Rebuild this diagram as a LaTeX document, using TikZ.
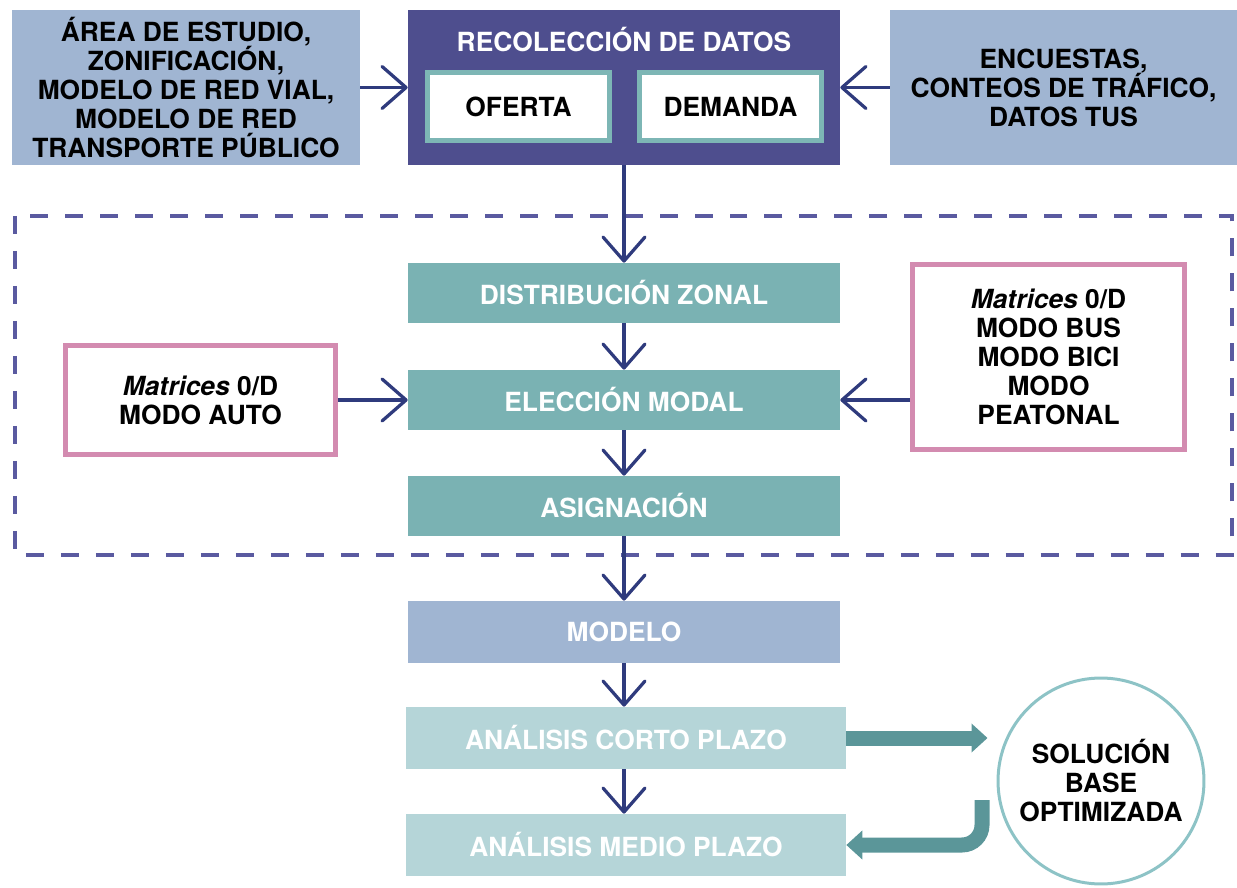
\documentclass[tikz,border=0pt]{standalone}
\usepackage{fontspec}
\setmainfont{TeX Gyre Heros}
\usetikzlibrary{arrows.meta}

\definecolor{boxblue}{RGB}{160,181,210}
\definecolor{datapurple}{RGB}{78,78,142}
\definecolor{stepteal}{RGB}{122,178,179}
\definecolor{paleteal}{RGB}{181,213,216}
\definecolor{subteal}{RGB}{125,182,181}
\definecolor{navy}{RGB}{47,59,125}
\definecolor{dashblue}{RGB}{90,90,160}
\definecolor{matpink}{RGB}{211,139,176}
\definecolor{bigteal}{RGB}{91,150,153}
\definecolor{circteal}{RGB}{141,195,198}

\tikzset{
    txt/.style={font=\fontsize{15}{16.5}\selectfont\bfseries, align=center, inner sep=0pt},
    inbox/.style={txt, fill=boxblue, minimum width=6.95cm, minimum height=3.1cm},
    databox/.style={fill=datapurple, minimum width=8.64cm, minimum height=3.1cm},
    subbox/.style={txt, draw=subteal, line width=0.1cm, fill=white, minimum width=3.64cm, minimum height=1.36cm},
    stepbox/.style={txt, text=white, fill=stepteal, minimum width=8.64cm, minimum height=1.2cm},
    plazobox/.style={txt, text=white, fill=paleteal, minimum width=8.8cm, minimum height=1.24cm},
    matbox/.style={txt, draw=matpink, line width=0.1cm, fill=white},
    flow/.style={navy, line width=0.065cm, -{Straight Barb[length=0.48cm, width=0.84cm, round]}},
    bigflow/.style={bigteal, line width=0.3cm, -{Triangle[width=0.56cm, length=0.32cm]}},
    dashbox/.style={dashblue, line width=0.09cm, dash pattern=on 0.36cm off 0.34cm}
}

\begin{document}
\begin{tikzpicture}[x=0.02cm, y=-0.02cm]
    \useasboundingbox (0,0) rectangle (1237,888);
    \draw[dashbox] (15,216) rectangle (1232,555);

    % top row
    \node[inbox] (area) at (186,87.5) {ÁREA DE ESTUDIO,\\ZONIFICACIÓN,\\MODELO DE RED VIAL,\\MODELO DE RED\\TRANSPORTE PÚBLICO};
    \node[databox] (recol) at (624,87.5) {};
    \node[txt, text=white] (recoltitle) at (624,40) {RECOLECCIÓN DE DATOS};
    \node[subbox] (oferta) at (518.5,106.5) {OFERTA};
    \node[subbox] (demanda) at (730.5,106.5) {DEMANDA};
    \node[inbox, minimum width=6.94cm] (encuestas) at (1063.5,87.5) {ENCUESTAS,\\CONTEOS DE TRÁFICO,\\DATOS TUS};

    % modelo de cuatro etapas
    \node[stepbox] (distrib) at (624,293) {DISTRIBUCIÓN ZONAL};
    \node[stepbox] (eleccion) at (624,400) {ELECCIÓN MODAL};
    \node[stepbox] (asign) at (624,506) {ASIGNACIÓN};
    \node[matbox, minimum width=5.4cm, minimum height=2.18cm] (auto) at (200.5,400) {\textit{Matrices} 0/D\\MODO AUTO};
    \node[matbox, minimum width=5.44cm, minimum height=3.7cm] (resto) at (1048.5,357) {\textit{Matrices} 0/D\\MODO BUS\\MODO BICI\\MODO\\PEATONAL};

    % resultados
    \node[txt, text=white, fill=boxblue, minimum width=8.64cm, minimum height=1.24cm] (modelo) at (624,632) {MODELO};
    \node[plazobox] (corto) at (626,738) {ANÁLISIS CORTO PLAZO};
    \node[plazobox] (medio) at (626,845) {ANÁLISIS MEDIO PLAZO};
    \node[txt, circle, draw=circteal, line width=0.06cm, minimum size=4.12cm] (sol) at (1101,781) {SOLUCIÓN\\BASE\\OPTIMIZADA};
    \coordinate (solout) at (982,800);

    \draw[flow] (area) -- (recol);
    \draw[flow] (encuestas) -- (recol);
    \draw[flow] (recol) -- (distrib);
    \draw[flow] (distrib) -- (eleccion);
    \draw[flow] (eleccion) -- (asign);
    \draw[flow] (auto) -- (eleccion);
    \draw[flow] (resto.west |- eleccion) -- (eleccion.east);
    \draw[flow] (asign) -- (modelo);
    \draw[flow] (modelo.south) -- (modelo.south |- corto.north);
    \draw[flow] (corto.south -| modelo) -- (medio.north -| modelo);

    \draw[bigflow, shorten >=0.18cm] (corto.east) -- (sol.west |- corto.east);
    \draw[bigflow, rounded corners=0.4cm] (solout) |- (medio.east);
\end{tikzpicture}
\end{document}
